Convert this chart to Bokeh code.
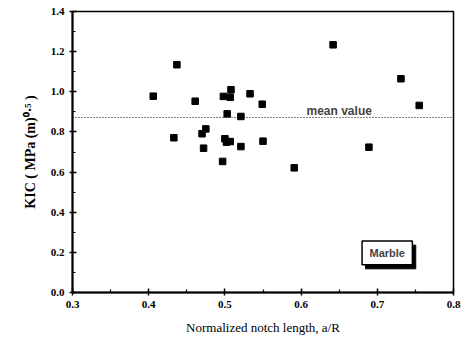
from bokeh.plotting import figure
from bokeh.models import Span, Label, FixedTicker, ColumnDataSource
from bokeh.embed import file_html
from bokeh.resources import INLINE

# data
notch_length = [0.406, 0.437, 0.433, 0.461, 0.470, 0.475, 0.472, 0.497, 0.498, 0.508,
                0.507, 0.503, 0.500, 0.502, 0.507, 0.521, 0.533, 0.521, 0.549, 0.550,
                0.591, 0.642, 0.689, 0.731, 0.755]
kic = [0.978, 1.135, 0.771, 0.953, 0.791, 0.815, 0.719, 0.653, 0.977, 1.010,
       0.973, 0.890, 0.766, 0.749, 0.752, 0.877, 0.990, 0.727, 0.938, 0.754,
       0.621, 1.234, 0.724, 1.065, 0.932]
mean_value = 0.872

x_ticks = [0.3, 0.4, 0.5, 0.6, 0.7, 0.8]
x_tick_labels = ["0.3", "0.4", "0.5", "0.6", "0.7", "0.8"]
x_minor = [0.35, 0.45, 0.55, 0.65, 0.75]
y_ticks = [0.0, 0.2, 0.4, 0.6, 0.8, 1.0, 1.2, 1.4]
y_tick_labels = ["0.0", "0.2", "0.4", "0.6", "0.8", "1.0", "1.2", "1.4"]
y_minor = [0.1, 0.3, 0.5, 0.7, 0.9, 1.1, 1.3]

y_title = "K\u1d35\u1d9c ( MPa (m)\u2070\u00b7\u2075 )"
y_title = "KIC ( MPa (m)\u2070\u00b7\u2075 )"
x_title = "Normalized notch length, a/R"

p = figure(width=465, height=340, output_backend="svg", toolbar_location=None,
           x_range=(0.3, 0.8), y_range=(0.0, 1.4),
           min_border_left=72, min_border_right=12, min_border_top=11,
           min_border_bottom=48)
p.grid.visible = False
p.background_fill_color = "white"
p.border_fill_color = "white"
p.outline_line_color = "black"
p.outline_line_width = 1.5
p.outline_line_alpha = 1.0

p.xaxis.ticker = FixedTicker(ticks=x_ticks, minor_ticks=x_minor)
p.xaxis.major_label_overrides = dict(zip(x_ticks, x_tick_labels))
p.yaxis.ticker = FixedTicker(ticks=y_ticks, minor_ticks=y_minor)
p.yaxis.major_label_overrides = dict(zip(y_ticks, y_tick_labels))

for ax in (p.xaxis[0], p.yaxis[0]):
    ax.axis_line_width = 2
    ax.axis_line_color = "black"
    ax.major_tick_line_color = "black"
    ax.minor_tick_line_color = "black"
    ax.major_tick_in = 4
    ax.major_tick_out = 3
    ax.minor_tick_in = 3
    ax.minor_tick_out = 0
    ax.major_tick_line_width = 1.5
    ax.minor_tick_line_width = 1.2
    ax.major_label_text_font = "Liberation Serif"
    ax.major_label_text_font_size = "11px"
    ax.major_label_text_font_style = "bold"
    ax.major_label_text_color = "black"
    ax.axis_label_text_font = "Liberation Serif"
    ax.axis_label_text_color = "black"

p.xaxis.major_label_standoff = 5
p.yaxis.major_label_standoff = 5
p.xaxis.axis_label = x_title
p.xaxis.axis_label_text_font_size = "13px"
p.xaxis.axis_label_text_font_style = "normal"
p.xaxis.axis_label_standoff = 9

p.yaxis.axis_label = y_title
p.yaxis.axis_label_text_font_size = "14px"
p.yaxis.axis_label_text_font_style = "bold"
p.yaxis.axis_label_standoff = 10

# mean line
p.add_layout(Span(location=mean_value, dimension="width", line_color="black",
                  line_dash="1 2", line_width=1))
p.add_layout(Label(x=0.650, y=0.902, text="mean value", text_align="center",
                   text_baseline="alphabetic", text_font="Liberation Sans",
                   text_font_style="bold", text_font_size="12px"))

# data points
src = ColumnDataSource(dict(x=notch_length, y=kic))
p.scatter("x", "y", source=src, marker="square", size=6.5, color="black")

# Marble box with shadow
p.quad(left=[0.6845], right=[0.7505], bottom=[0.118], top=[0.236],
       fill_color="black", line_color="black")
p.quad(left=[0.680], right=[0.746], bottom=[0.138], top=[0.256],
       fill_color="white", line_color="black", line_width=1.5)
p.add_layout(Label(x=0.713, y=0.197, text="Marble", text_align="center",
                   text_baseline="middle", text_font="Liberation Sans",
                   text_font_style="bold", text_font_size="11px"))

open("out.html", "w").write(file_html(p, INLINE))
